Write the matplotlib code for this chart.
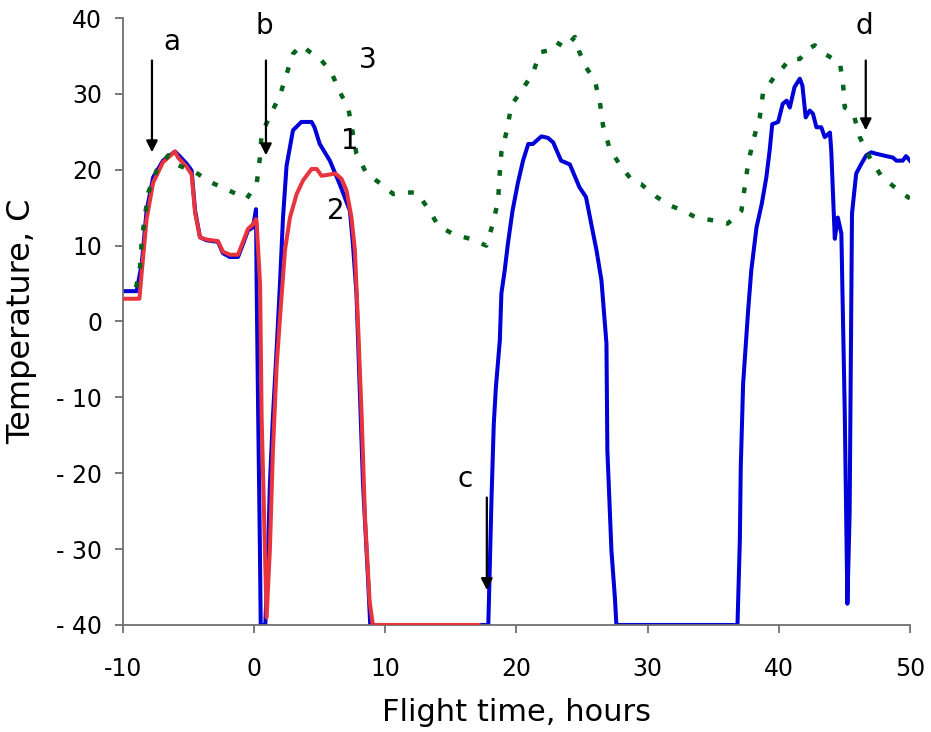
import matplotlib
matplotlib.use("Agg")
import matplotlib.pyplot as plt

# Series 1 (blue)
t1 = [-10, -8.96, -8.57, -8.2, -7.7, -6.95, -6.04, -5.8, -5.15, -4.77, -4.5, -4.13, -3.63, -2.76,
      -2.38, -1.85, -1.23, -0.85, -0.47, -0.09, 0.14, 0.19, 0.31, 0.44, 0.5, 0.85, 1.07, 1.2, 1.43,
      1.71, 1.97, 2.2, 2.47, 2.96, 3.6, 4.38, 4.6, 5.0, 5.77, 6.5, 7.3, 7.53, 7.8, 8.3, 8.7, 8.85,
      17.85, 17.9, 18.1, 18.27, 18.43, 18.73, 18.85, 19.1, 19.35, 19.7, 20.1, 20.5, 20.9, 21.25,
      21.9, 22.4, 22.8, 23.4, 24.07, 24.8, 25.3, 25.8, 26.1, 26.48, 26.86, 26.93, 27.24, 27.5,
      27.62, 36.85, 37.03, 37.1, 37.28, 37.66, 37.9, 38.3, 38.7, 39.05, 39.3, 39.5, 39.95, 40.3,
      40.6, 40.84, 41.2, 41.6, 41.8, 42.05, 42.36, 42.6, 42.87, 43.24, 43.5, 43.9, 44.0, 44.27,
      44.5, 44.77, 45.03, 45.23, 45.4, 45.48, 45.58, 45.79, 45.9, 46.3, 46.67, 47.05, 47.44,
      48.7, 48.96, 49.45, 49.7, 50.0]
T1 = [4, 4, 7.6, 14.6, 19, 21.2, 22.4, 22, 20.8, 19.9, 14.6, 11.1, 10.7, 10.5,
      9, 8.5, 8.5, 10.2, 12, 12.4, 14.8, 5, -12.6, -30, -40, -40, -30, -21.4, -12.6,
      -3.8, 5, 13.7, 20.5, 25.2, 26.3, 26.3, 25.6, 23.4, 21.2, 18.2, 14.6, 10.2, 3.7, -21.4, -34.5, -40,
      -40, -36.8, -23.1, -13.5, -8.7, -2.5, 3.7, 6.7, 10.3, 14.6, 18.2, 21.2, 23.4, 23.4,
      24.4, 24.2, 23.6, 21.2, 20.7, 17.7, 16.4, 12, 9.4, 5.4, -2.9, -17, -30.2, -36.3,
      -40, -40, -28.8, -19.2, -8.2, 1.4, 6.7, 12.4, 15.5, 19, 22.5, 26, 26.3, 28.7,
      29.1, 28.2, 30.9, 32, 31.1, 26.9, 27.8, 27.4, 25.6, 25.6, 24.3, 24.9, 22.5, 10.9,
      13.7, 11.6, -12.1, -37.2, -25.3, -7.8, 14.2, 17.7, 19.5, 20.8, 21.9, 22.3, 22.1,
      21.6, 21.2, 21.2, 21.8, 21.2]

# Series 2 (red)
t2 = [-10, -8.75, -8.57, -8.2, -7.7, -6.95, -6.04, -5.8, -5.15, -4.77, -4.5, -4.13, -3.63, -2.76,
      -2.38, -1.85, -1.23, -0.85, -0.47, -0.09, 0.14, 0.19, 0.45, 0.57, 0.82, 0.95, 1.2, 1.43,
      1.71, 1.97, 2.35, 2.73, 3.24, 3.73, 4.38, 4.77, 5.14, 6.2, 6.66, 7.04, 7.42, 7.68, 7.9,
      8.2, 8.45, 8.8, 9.05, 17.1]
T2 = [3, 3, 6.5, 13.5, 18.3, 21, 22.4, 21.6, 20.4, 19.4, 14.3, 11.1, 10.8, 10.6,
      9.2, 8.8, 8.8, 10.5, 12.2, 12.8, 13.5, 13, 5, -12.6, -30, -39, -30, -17,
      -6, 0.5, 9.4, 13.7, 16.8, 18.6, 20.1, 20.1, 19.2, 19.5, 18.8, 17.3, 13.7, 9.4, 0.5,
      -12.6, -25.8, -36.8, -40, -40]

# Series 3 (green, dotted)
t3 = [-9.0, -8.7, -8.57, -8.3, -8.07, -7.44, -6.55, -5.8, -4.5, -3.37, -1.97, -0.57, 0.19, 0.44,
      0.57, 1.2, 1.97, 2.47, 2.97, 3.6, 4.26, 5.14, 5.9, 6.54, 7.17, 7.8, 8.57, 9.7, 10.6, 11.5,
      12.4, 13.3, 14.05, 15.2, 16.45, 17.7, 18.2, 18.6, 18.7, 18.85, 19.3, 19.6, 20.5, 21.27,
      21.8, 22.4, 23.05, 23.7, 24.45, 24.8, 25.3, 25.97, 26.36, 26.6, 27.1, 27.9, 28.9, 29.5,
      30.7, 31.7, 32.7, 33.7, 35.1, 36.1, 37.15, 37.4, 37.66, 38.04, 38.55, 38.8, 39.57, 40.33,
      40.84, 41.6, 42.23, 42.74, 43.5, 44.14, 44.65, 44.9, 45.03, 45.66, 46.17, 46.94, 47.8,
      48.96, 50]
T3 = [4.5, 7.2, 10.7, 14.2, 17, 19.9, 21.9, 20.6, 19.7, 18.4, 17.3, 16.2, 18.1, 21.6,
      24.7, 27.1, 29.8, 32.6, 35.3, 36.4, 35.5, 34.4, 32.8, 30.2, 28.2, 22.1, 19.5, 18.1, 16.8, 17.0,
      17.0, 14.8, 12.6, 11.5, 10.9, 10.0, 12.9, 15.9, 19.0, 22.3, 25.4, 28.5, 30.7, 32.8,
      35.5, 35.7, 36.8, 36.1, 37.5, 35.5, 33.5, 31.8, 28.9, 25.8, 22.8, 20.6, 18.4, 18.1,
      16.4, 15.3, 14.6, 13.7, 13.3, 12.9, 14.6, 17.7, 20.8, 23.8, 26.9, 30.2, 32.0, 33.5,
      34.6, 34.6, 35.9, 36.4, 35.3, 34.6, 34.2, 31.3, 28.2, 27.6, 24.3, 21.6, 19.2,
      17.5, 16.2]

x_ticks = [-10, 0, 10, 20, 30, 40, 50]
x_ticklabels = ['-10', '0', '10', '20', '30', '40', '50']
y_ticks = [-40, -30, -20, -10, 0, 10, 20, 30, 40]
y_ticklabels = ['- 40', '- 30', '- 20', '- 10', '0', '10', '20', '30', '40']

# Event markers: label, time, arrow top, arrow tip
events = [('a', -7.79, 34.4, 22.3), ('b', 0.9, 34.4, 21.9),
          ('c', 17.74, -23.2, -35.4), ('d', 46.63, 34.4, 25.2)]
event_label_pos = {'a': (-6.3, 36.8), 'b': (0.75, 39.0), 'c': (16.1, -20.7), 'd': (46.55, 39.0)}
curve_labels = [('1', 7.3, 23.8), ('2', 6.2, 14.6), ('3', 8.67, 34.4)]

fig = plt.figure(figsize=(9.31, 7.32), dpi=100)
ax = fig.add_axes([0.1321, 0.1462, 0.8453, 0.8292])

ax.plot(t1, T1, color='#0000d8', lw=2.9, zorder=2, solid_joinstyle='round')
ax.plot(t2, T2, color='#e8343c', lw=2.9, zorder=3, solid_joinstyle='round')
ax.plot(t3, T3, color='#05641a', lw=3.2, zorder=4, linestyle=(0, (1.3, 3.0)),
        dash_capstyle='butt')

ax.set_xlim(-10, 50)
ax.set_ylim(-40, 40)
ax.set_xticks(x_ticks)
ax.set_xticklabels(x_ticklabels)
ax.set_yticks(y_ticks)
ax.set_yticklabels(y_ticklabels)

for s in ['top', 'right']:
    ax.spines[s].set_visible(False)
for s in ['left', 'bottom']:
    ax.spines[s].set_color('#707070')
    ax.spines[s].set_linewidth(1.3)

ax.tick_params(axis='x', direction='out', length=6, width=1.3, color='#707070',
               labelsize=17, pad=17)
ax.tick_params(axis='y', direction='out', length=6, width=1.3, color='#707070',
               labelsize=17, pad=9)

ax.set_xlabel('Flight time, hours', fontsize=22, labelpad=12)
ax.set_ylabel('Temperature, C', fontsize=23, labelpad=14)

for lab, t, ytop, ytip in events:
    ax.annotate('', xy=(t, ytip), xytext=(t, ytop),
                arrowprops=dict(arrowstyle='-|>', color='black', lw=1.6,
                                mutation_scale=17, shrinkA=0, shrinkB=0), zorder=6)
    lx, ly = event_label_pos[lab]
    ax.text(lx, ly, lab, fontsize=20, ha='center', va='center', zorder=6)

for lab, x, y in curve_labels:
    ax.text(x, y, lab, fontsize=20, ha='center', va='center', zorder=6)

fig.savefig('out.png', dpi=100)
